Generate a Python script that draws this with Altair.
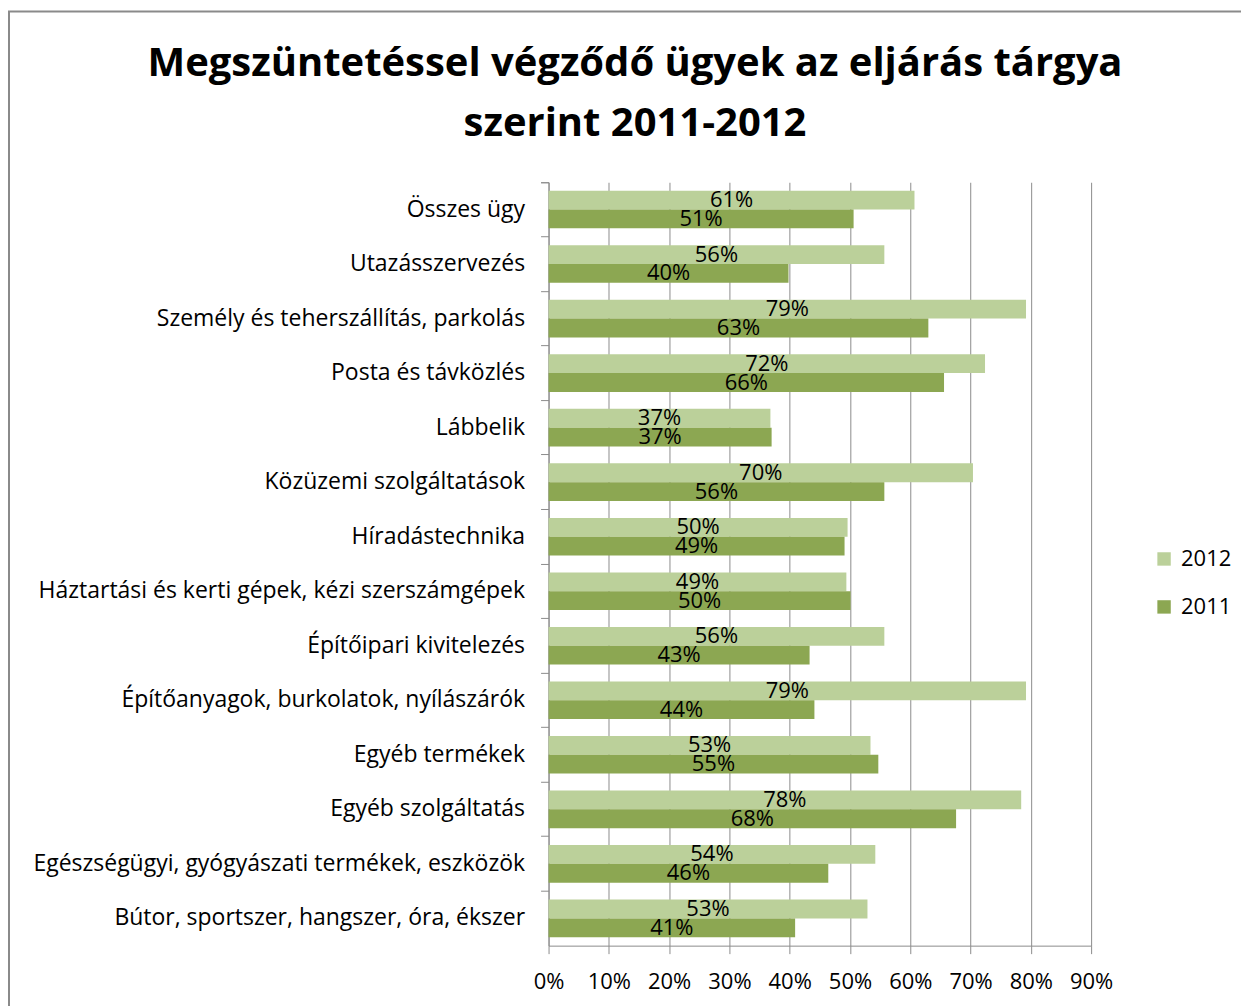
import altair as alt
import pandas as pd

categories = [
    "Összes ügy",
    "Utazásszervezés",
    "Személy és teherszállítás, parkolás",
    "Posta és távközlés",
    "Lábbelik",
    "Közüzemi szolgáltatások",
    "Híradástechnika",
    "Háztartási és kerti gépek, kézi szerszámgépek",
    "Építőipari kivitelezés",
    "Építőanyagok, burkolatok, nyílászárók",
    "Egyéb termékek",
    "Egyéb szolgáltatás",
    "Egészségügyi, gyógyászati termékek, eszközök",
    "Bútor, sportszer, hangszer, óra, ékszer",
]
values_2012 = [0.607, 0.557, 0.792, 0.724, 0.368, 0.704, 0.496, 0.494, 0.557, 0.792, 0.534, 0.784, 0.542, 0.529]
values_2011 = [0.506, 0.398, 0.630, 0.656, 0.370, 0.557, 0.491, 0.501, 0.433, 0.441, 0.547, 0.676, 0.464, 0.409]
series = ["2012", "2011"]
x_ticks = [0, 0.1, 0.2, 0.3, 0.4, 0.5, 0.6, 0.7, 0.8, 0.9]

rows = []
for c, v12, v11 in zip(categories, values_2012, values_2011):
    rows.append({"cat": c, "year": "2012", "value": v12})
    rows.append({"cat": c, "year": "2011", "value": v11})
df = pd.DataFrame(rows)

FONT = "Open Sans"
C12 = "#BBD09A"
C11 = "#8CA752"
GRAY = "#8c8c8c"

y_enc = alt.Y("cat:N", sort=categories, title=None,
              scale=alt.Scale(paddingInner=0, paddingOuter=0),
              axis=alt.Axis(labelFontSize=23, labelFont=FONT, labelColor="#000000",
                            labelPadding=16, tickSize=8, tickColor=GRAY,
                            domainColor=GRAY, bandPosition=0, tickExtra=True,
                            labelLimit=600))
yoff = alt.YOffset("year:N", sort=series,
                   scale=alt.Scale(paddingOuter=0.45, paddingInner=0))

base = alt.Chart(df)

bars = base.mark_bar(cornerRadius=0).encode(
    x=alt.X("value:Q", title=None,
            scale=alt.Scale(domain=[0, 0.9], nice=False),
            axis=alt.Axis(values=x_ticks, format=".0%", labelFontSize=22, labelFont=FONT,
                          labelColor="#000000", tickSize=8, tickColor=GRAY,
                          domainColor=GRAY, grid=True, gridColor=GRAY,
                          labelPadding=18, labelFlush=False)),
    y=y_enc,
    yOffset=yoff,
    color=alt.Color("year:N", sort=series,
                    scale=alt.Scale(domain=series, range=[C12, C11]),
                    legend=alt.Legend(title=None, orient="none", legendX=605, legendY=366,
                                      labelFontSize=22, labelFont=FONT, labelColor="#000000",
                                      symbolType="square", symbolSize=180, symbolStrokeWidth=0,
                                      rowPadding=26, labelOffset=6)),
)

labels = base.transform_calculate(mid="datum.value / 2").mark_text(
    fontSize=22, font=FONT, color="#000000", baseline="middle", align="center"
).encode(
    x=alt.X("mid:Q"),
    y=alt.Y("cat:N", sort=categories),
    yOffset=alt.YOffset("year:N", sort=series),
    text=alt.Text("value:Q", format=".0%"),
)

frame = alt.Chart(pd.DataFrame({"a": [0]})).mark_rect(
    fill=None, stroke="#8a8a8a", strokeWidth=2
).encode(
    x=alt.value(-540), x2=alt.value(720),
    y=alt.value(-171), y2=alt.value(840),
)

chart = alt.layer(frame, bars, labels).properties(
    width=543, height=764,
    title=alt.TitleParams(
        text=["Megszüntetéssel végződő ügyek az eljárás tárgya", "szerint 2011-2012"],
        fontSize=40, font=FONT, fontWeight="bold", color="#000000",
        anchor="middle", frame="group", dx=-185, offset=0, dy=134, lineHeight=60,
    ),
    autosize=alt.AutoSizeParams(type="none"),
    padding={"left": 541, "top": 174, "right": 150, "bottom": 60},
).configure_view(stroke=None).configure_axis(domainWidth=1, gridWidth=1)

chart.save("out.html", embed_options={"renderer": "svg", "actions": False})
